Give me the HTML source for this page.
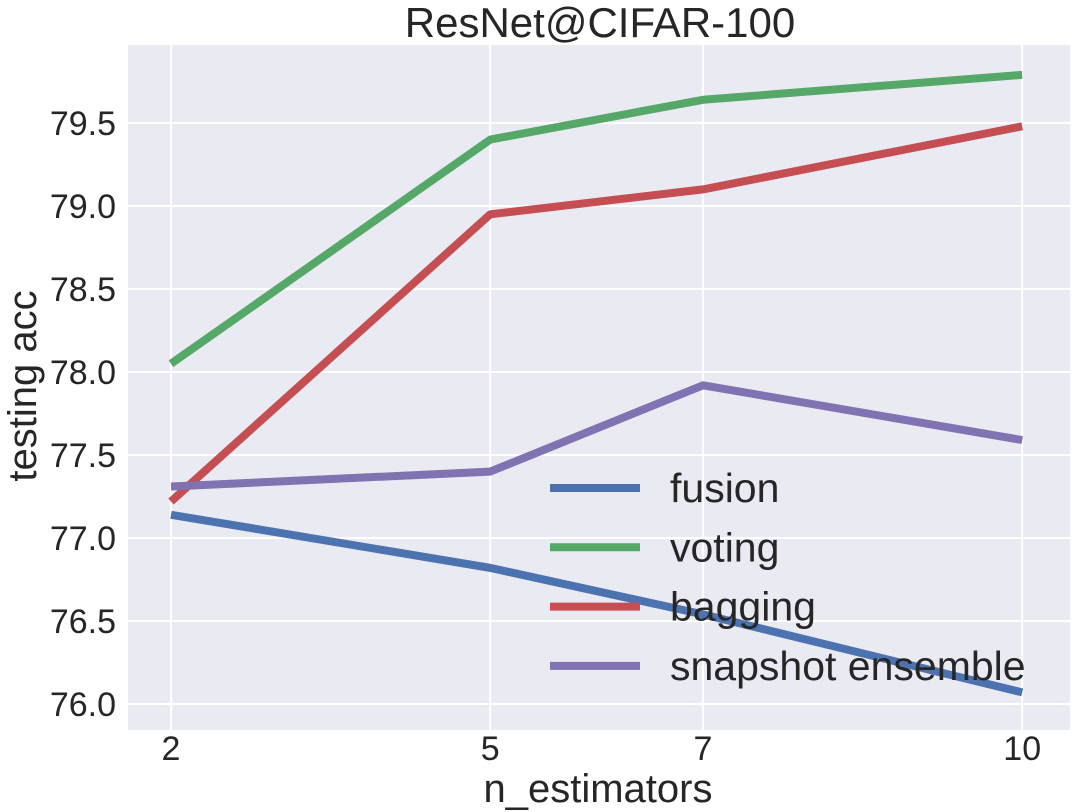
<!DOCTYPE html>
<html><head><meta charset="utf-8">
<style>
html,body{margin:0;padding:0;background:#fff;}
svg{display:block;font-family:"Liberation Sans","DejaVu Sans",sans-serif;}
</style></head>
<body>
<svg id="chart" width="1073" height="812"></svg>
<script>
const categories = [2, 5, 7, 10];
const fusion = [77.14, 76.82, 76.54, 76.07];
const voting = [78.05, 79.40, 79.64, 79.79];
const bagging = [77.22, 78.95, 79.10, 79.48];
const snapshot = [77.31, 77.40, 77.92, 77.59];
const seriesNames = ["fusion", "voting", "bagging", "snapshot ensemble"];
const yTicks = [76.0, 76.5, 77.0, 77.5, 78.0, 78.5, 79.0, 79.5];
const xTicks = [2, 5, 7, 10];

const svg = document.getElementById('chart');
const NS = 'http://www.w3.org/2000/svg';
const L = 128, R = 1070, T = 45, B = 730;
function xs(v){ return 171 + (v - 2) * 106.4; }
function ys(v){ return 704 - (v - 76.0) * 166; }
function mk(tag, attrs, parent){
  const e = document.createElementNS(NS, tag);
  for (const k in attrs) e.setAttribute(k, attrs[k]);
  (parent || svg).appendChild(e);
  return e;
}
const bg = mk('rect', {x:L, y:T, width:R-L, height:B-T, fill:'#EAEAF2'});



yTicks.forEach(v => {
  const g = mk('line', {x1:L, x2:R, y1:ys(v), y2:ys(v), stroke:'#fff', 'stroke-width':2});
  
  
  const t = mk('text', {x:L-12, y:ys(v)+12, 'text-anchor':'end', 'font-size':34, fill:'#262626'});
  t.textContent = v.toFixed(1);
  
  
});
xTicks.forEach(v => {
  const g = mk('line', {x1:xs(v), x2:xs(v), y1:T, y2:B, stroke:'#fff', 'stroke-width':2});
  
  
  const t = mk('text', {x:xs(v), y:B+30, 'text-anchor':'middle', 'font-size':34, fill:'#262626'});
  t.textContent = v;
  
  
});

const colors = ['#4C72B0', '#55A868', '#C44E52', '#8172B2'];
const series = [fusion, voting, bagging, snapshot];
series.forEach((s, i) => {
  const pts = s.map((v, j) => xs(categories[j]) + ',' + ys(v)).join(' ');
  const p = mk('polyline', {points:pts, fill:'none', stroke:colors[i], 'stroke-width':8, 'stroke-linejoin':'round'});
  
  
});

seriesNames.forEach((n, i) => {
  const y = 488 + i * 59.3;
  const l = mk('line', {x1:550, x2:640, y1:y, y2:y, stroke:colors[i], 'stroke-width':8});
  
  
  const t = mk('text', {x:670, y:y+14, 'font-size':41, fill:'#262626'});
  t.textContent = n;
  
  
});

const title = mk('text', {x:600, y:37, 'text-anchor':'middle', 'font-size':42, fill:'#262626'});
title.textContent = 'ResNet@CIFAR-100';


const xt = mk('text', {x:598, y:802, 'text-anchor':'middle', 'font-size':40, fill:'#262626'});
xt.textContent = 'n_estimators';


const yt = mk('text', {x:0, y:0, 'text-anchor':'middle', 'font-size':40, fill:'#262626', transform:'translate(36,386) rotate(-90)'});
yt.textContent = 'testing acc';


</script>
</body></html>
